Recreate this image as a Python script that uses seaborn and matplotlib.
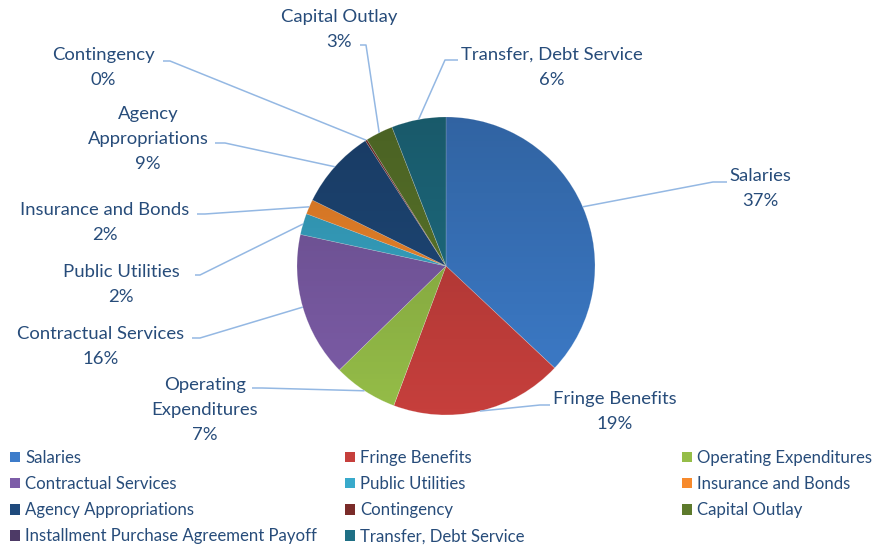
import matplotlib
matplotlib.use("Agg")
import matplotlib.pyplot as plt
import numpy as np
import seaborn as sns
from matplotlib.colors import LinearSegmentedColormap
from matplotlib.patches import Circle, Patch

# data (share of budget, %)
CATEGORIES = [
    "Salaries", "Fringe Benefits", "Operating Expenditures", "Contractual Services",
    "Public Utilities", "Insurance and Bonds", "Agency Appropriations", "Contingency",
    "Capital Outlay", "Installment Purchase Agreement Payoff", "Transfer, Debt Service",
]
SHARES = [37.0, 18.7, 7.0, 15.7, 2.3, 1.6, 8.6, 0.2, 3.0, 0.0, 5.9]

COLORS = [
    "#3D7CCA", "#C63F3C", "#95BD48", "#7D5DA8", "#39AACB", "#F78A2C",
    "#1F4A7C", "#7A2B29", "#5D7A2C", "#4D3A66", "#1F7085",
]

# label text lines (pixel centre x, y of first line) and leader elbow points
LABEL_LAYOUT = {
    "Salaries": (["Salaries"], 760, 174, [(713, 182), (727, 182)]),
    "Fringe Benefits": (["Fringe Benefits"], 615, 397, [(540, 405), (550, 405)]),
    "Operating Expenditures": (["Operating", "Expenditures"], 205, 383, [(262, 388), (252, 388)]),
    "Contractual Services": (["Contractual Services"], 101, 332, [(200, 338), (192, 338)]),
    "Public Utilities": (["Public Utilities"], 121, 270, [(200, 275), (195, 275)]),
    "Insurance and Bonds": (["Insurance and Bonds"], 105, 208, [(205, 214), (197, 214)]),
    "Agency Appropriations": (["Agency", "Appropriations"], 148, 112, [(225, 143), (215, 143)]),
    "Contingency": (["Contingency"], 103, 53, [(170, 61), (163, 61)]),
    "Capital Outlay": (["Capital Outlay"], 339, 15, [(366, 45), (360, 45)]),
    "Transfer, Debt Service": (["Transfer, Debt Service"], 552, 53, [(445, 60), (458, 60)]),
}

W, H = 892, 546
CX, CY, R = 446, 266, 149
TEXT_COLOR = "#274C7A"
LINE_COLOR = "#94B8E3"
LINE_STEP = 25
TEXT_DY = 2


def px(x, y):
    return x, H - y


def main() -> None:
    sns.set_theme(style="white")
    plt.rcParams["font.family"] = ["Lato", "DejaVu Sans"]

    fig = plt.figure(figsize=(W / 100, H / 100), dpi=100)
    ax = fig.add_axes([0, 0, 1, 1])

    wedges, _ = ax.pie(
        SHARES,
        colors=COLORS,
        startangle=90,
        counterclock=False,
        center=px(CX, CY),
        radius=R,
        frame=True,
        wedgeprops=dict(linewidth=0.4, edgecolor=(1, 1, 1, 0.35)),
    )

    # soft top-to-bottom darkening like the original's gradient fill
    shade = LinearSegmentedColormap.from_list(
        "shade", [(0, 0, 0, 0.0), (0, 0, 0, 0.2)]
    )
    grad = np.linspace(0, 1, 256).reshape(-1, 1)
    cx, cy = px(CX, CY)
    img = ax.imshow(grad, cmap=shade, extent=[cx - R, cx + R, cy + R, cy - R],
                    origin="upper", aspect="auto", zorder=3, interpolation="bilinear")
    img.set_clip_path(Circle((cx, cy), R, transform=ax.transData))
    ax.set_xlim(0, W)
    ax.set_ylim(0, H)
    ax.set_aspect("equal")
    ax.axis("off")

    total = sum(SHARES)
    cum = 0.0
    for name, share in zip(CATEGORIES, SHARES):
        mid = (cum + share / 2) / total * 2 * np.pi
        cum += share
        if name not in LABEL_LAYOUT:
            continue
        lines, tx, ty, elbow = LABEL_LAYOUT[name]
        ex = CX + R * np.sin(mid)
        ey = CY - R * np.cos(mid)
        pts = [(ex, ey)] + elbow
        ax.plot([p[0] for p in pts], [H - p[1] for p in pts],
                color=LINE_COLOR, lw=1.1, zorder=4, solid_capstyle="butt")
        pct = f"{round(share / total * 100):.0f}%"
        for i, line in enumerate(lines + [pct]):
            ax.text(tx, H - (ty + TEXT_DY + i * LINE_STEP), line, ha="center", va="center",
                    fontsize=13.3, color=TEXT_COLOR)

    # legend in three columns, filled row by row
    col_x = [10, 345, 682]
    for c in range(3):
        idx = list(range(c, len(CATEGORIES), 3))
        handles = [Patch(facecolor=COLORS[i], edgecolor="none") for i in idx]
        labels = [CATEGORIES[i] for i in idx]
        leg = fig.legend(
            handles, labels,
            loc="upper left",
            bbox_to_anchor=(col_x[c] / W, 1 - 450 / H),
            frameon=False,
            fontsize=12.1,
            handlelength=0.6,
            handleheight=0.6,
            handletextpad=0.3,
            labelspacing=0.6,
            borderpad=0,
            borderaxespad=0,
        )
        for t in leg.get_texts():
            t.set_color(TEXT_COLOR)

    fig.savefig("out.png", dpi=100)
    plt.close(fig)


if __name__ == "__main__":
    main()
